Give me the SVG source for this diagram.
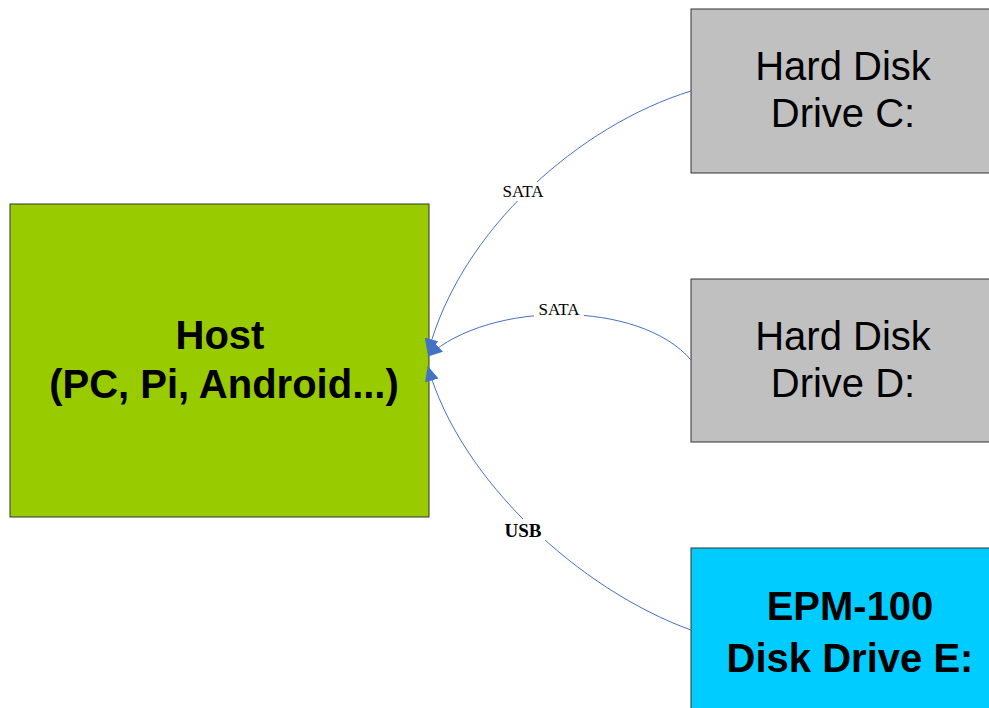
<svg xmlns="http://www.w3.org/2000/svg" width="989" height="708" viewBox="0 0 989 708">
<style>
.box{stroke:#333;stroke-width:1}
.big{font-family:"Liberation Sans",Arial,sans-serif;font-size:40px;text-anchor:middle;fill:#000}
.bold{font-weight:bold}
.conn{fill:none;stroke:#4472C4;stroke-width:1}
.lbl{font-family:"Liberation Serif","Times New Roman",serif;font-size:17px;text-anchor:middle;fill:#000}
</style>
<defs>
<marker id="arr" viewBox="0 0 15 14" refX="14" refY="7" markerWidth="15" markerHeight="14" markerUnits="userSpaceOnUse" orient="auto">
<path d="M0,0 L15,7 L0,14 Z" fill="#4472C4"/>
</marker>
</defs>
<g id="host">
<rect class="box" x="10" y="204" width="419" height="313" fill="#99CC00"/>
<text class="big bold" x="220" y="349">Host</text>
<text class="big bold" x="224" y="398">(PC, Pi, Android...)</text>
</g>
<g id="hddC">
<rect class="box" x="691" y="9" width="310" height="164" fill="#C0C0C0"/>
<text class="big" x="843" y="80">Hard Disk</text>
<text class="big" x="843" y="127">Drive C:</text>
</g>
<g id="hddD">
<rect class="box" x="691" y="279" width="310" height="163" fill="#C0C0C0"/>
<text class="big" x="843" y="350">Hard Disk</text>
<text class="big" x="843" y="397">Drive D:</text>
</g>
<g id="epm">
<rect class="box" x="691" y="548" width="310" height="170" fill="#00CCFF"/>
<text class="big bold" x="850" y="620">EPM-100</text>
<text class="big bold" x="850" y="672">Disk Drive E:</text>
</g>
<g id="connectors">
<path class="conn" d="M691,91 C580,125 460,230 428,353" marker-end="url(#arr)"/>
<path class="conn" d="M691,360 C640,300 490,300 428,356" marker-end="url(#arr)"/>
<path class="conn" d="M691,630 C580,590 460,480 428,367" marker-end="url(#arr)"/>
<rect x="498" y="182" width="50" height="19" fill="#fff"/>
<text class="lbl" x="523" y="197">SATA</text>
<rect x="534" y="300" width="50" height="19" fill="#fff"/>
<text class="lbl" x="559" y="315">SATA</text>
<rect x="501" y="519" width="44" height="21" fill="#fff"/>
<text class="lbl" x="523" y="537" font-weight="bold" style="font-size:19px">USB</text>
</g>
</svg>
